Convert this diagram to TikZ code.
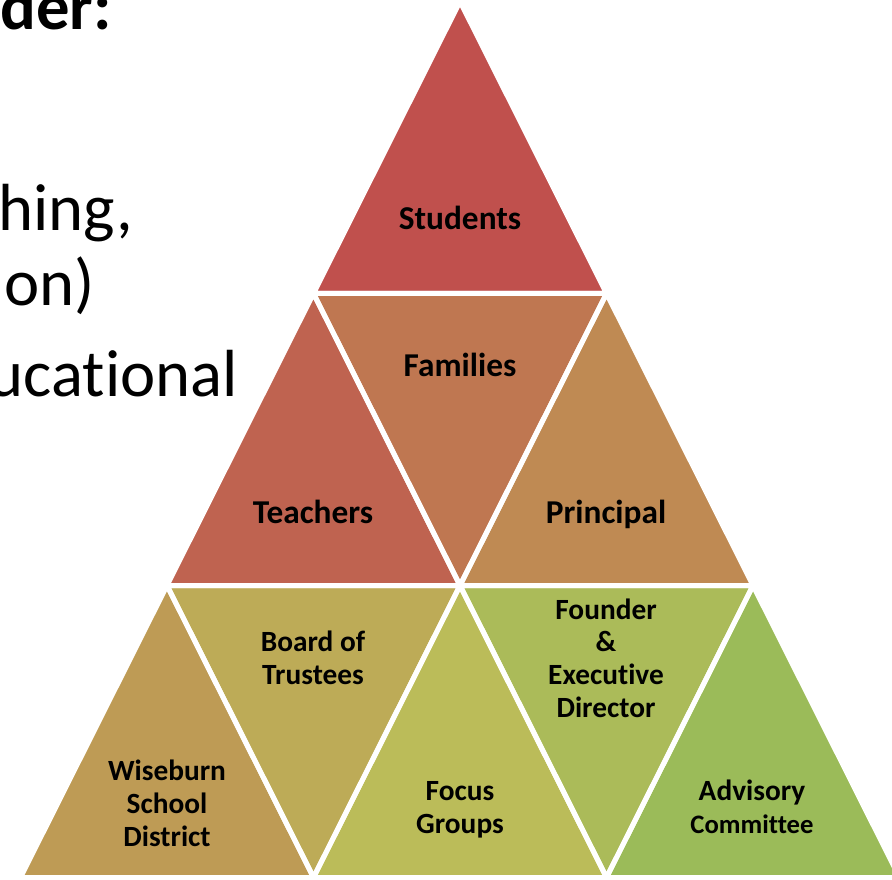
\documentclass[tikz,border=0pt]{standalone}
\usepackage{fontspec}
\setmainfont[Ligatures={NoCommon}]{Carlito}
\definecolor{cStu}{HTML}{C0504D}
\definecolor{cTea}{HTML}{BF6350}
\definecolor{cFam}{HTML}{BF7751}
\definecolor{cPri}{HTML}{BF8A53}
\definecolor{cWis}{HTML}{BE9B55}
\definecolor{cBoa}{HTML}{BDAB57}
\definecolor{cFoc}{HTML}{BBBC59}
\definecolor{cFou}{HTML}{ABBB59}
\definecolor{cAdv}{HTML}{9BBB59}
\tikzset{
  tri/.style={draw=white,line width=3.75pt,line join=round},
  lblbig/.style={font=\bfseries\fontsize{25}{30}\selectfont,align=center,inner sep=0pt,anchor=base},
  lblsm/.style={font=\bfseries\fontsize{22}{24.4}\selectfont,align=center,inner sep=0pt,anchor=base},
  slide/.style={font=\fontsize{50}{60}\selectfont,inner sep=0pt,anchor=base east}
}
\begin{document}
\begin{tikzpicture}[x=0.75pt,y=-0.75pt]
\useasboundingbox (0,0) rectangle (892,880);
\begin{scope}
\clip (0,0) rectangle (892,880);
\coordinate (a0) at (460,1.5);
\coordinate (b0) at (313.5,293.5);
\coordinate (b1) at (606.5,293.5);
\coordinate (c0) at (167,585.5);
\coordinate (c1) at (460,585.5);
\coordinate (c2) at (753,585.5);
\coordinate (d0) at (20.5,877.5);
\coordinate (d1) at (313.5,877.5);
\coordinate (d2) at (606.5,877.5);
\coordinate (d3) at (899.5,877.5);
% fills
\fill[cStu] (a0)--(b0)--(b1)--cycle;
\fill[cTea] (b0)--(c0)--(c1)--cycle;
\fill[cFam] (b0)--(b1)--(c1)--cycle;
\fill[cPri] (b1)--(c1)--(c2)--cycle;
\fill[cWis] (c0)--(d0)--(d1)--cycle;
\fill[cBoa] (c0)--(c1)--(d1)--cycle;
\fill[cFoc] (c1)--(d1)--(d2)--cycle;
\fill[cFou] (c1)--(c2)--(d2)--cycle;
\fill[cAdv] (c2)--(d2)--(d3)--cycle;
% white outlines
\draw[tri] (a0)--(b0)--(b1)--cycle;
\draw[tri] (b0)--(c0)--(c1)--cycle;
\draw[tri] (b0)--(b1)--(c1)--cycle;
\draw[tri] (b1)--(c1)--(c2)--cycle;
\draw[tri] (c0)--(d0)--(d1)--cycle;
\draw[tri] (c0)--(c1)--(d1)--cycle;
\draw[tri] (c1)--(d1)--(d2)--cycle;
\draw[tri] (c1)--(c2)--(d2)--cycle;
\draw[tri] (c2)--(d2)--(d3)--cycle;
% slide text, cut at the left edge
\node[slide,font=\bfseries\fontsize{50}{60}\selectfont] (s1) at (112,30) {der:};
\node[slide] (s2) at (133,231) {hing,};
\node[slide] (s3) at (95,306) {on)};
\node[slide] (s4) at (238,397) {ucational};
\end{scope}
% labels
\node[lblbig] (lStu) at (460,230) {Students};
\node[lblbig] (lFam) at (460,377) {Families};
\node[lblbig] (lTea) at (313,523) {Teachers};
\node[lblbig] (lPri) at (606,523) {Principal};
\node[lblsm] (lBoa) at (313,684) {Board of\\Trustees};
\node[lblsm] (lFou) at (606,717) {Founder\\\&\\Executive\\Director};
\node[lblsm] (lWis) at (167,846) {Wiseburn\\School\\District};
\node[lblsm] (lFoc) at (460,833) {Focus\\Groups};
\node[lblsm] (lAdv) at (752,833) {Advisory\\{\fontsize{20}{24.4}\selectfont Committee}};
\end{tikzpicture}
\end{document}
